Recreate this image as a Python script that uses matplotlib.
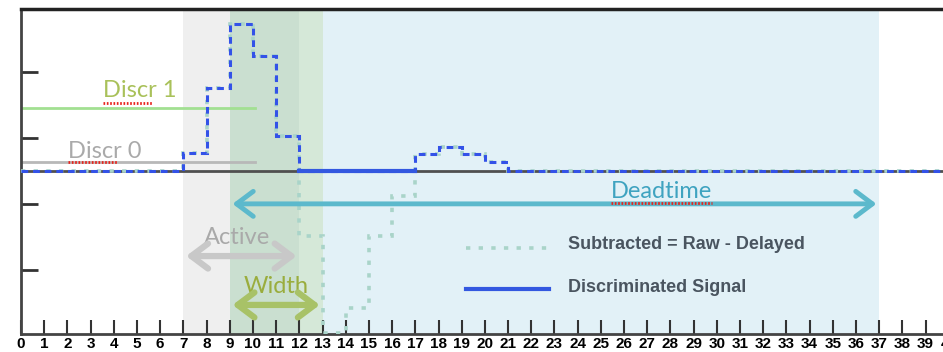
import numpy as np
import matplotlib
matplotlib.use("Agg")
import matplotlib.pyplot as plt
from matplotlib.patches import FancyArrowPatch

# --- data -------------------------------------------------------------
bin_edges = np.arange(0, 41)
subtracted = np.array([0, 0, 0, 0, 0, 0, 0, 2.7, 12.6, 22.3, 17.4, 5.2,
                       -9.8, -24.5, -20.8, -9.8, -3.8, 2.6, 3.6, 2.6, 1.4,
                       0, 0, 0, 0, 0, 0, 0, 0, 0, 0, 0, 0, 0, 0, 0, 0, 0, 0, 0])
discr_levels = {"Discr 1": 9.5, "Discr 0": 1.3}
active_window = (7, 12)
width_window = (9, 13)
deadtime_window = (9, 37)
x_ticks = np.arange(0, 41)
y_ticks = [-15, -5, 5, 15]

label_font = ["Lato", "DejaVu Sans"]
legend_font = ["Liberation Sans", "DejaVu Sans"]

fig = plt.figure(figsize=(9.43, 3.52), dpi=100)
ax = fig.add_axes([21 / 943, 18 / 352, 951 / 943, 325 / 352])
ax.set_xlim(0, 41)
ax.set_ylim(-24.7, 24.5)

# shaded timing windows
ax.axvspan(active_window[0], width_window[0], color="#efefef", lw=0, zorder=0)
ax.axvspan(width_window[0], active_window[1], color="#cadfd0", lw=0, zorder=0)
ax.axvspan(active_window[1], width_window[1], color="#d5e8d8", lw=0, zorder=0)
ax.axvspan(width_window[1], deadtime_window[1], color="#e2f1f7", lw=0, zorder=0)

# baseline
ax.axhline(0, color="#505050", lw=2, zorder=1)

# discriminator thresholds
discr_extent = 10.1
ax.plot([0, discr_extent], [discr_levels["Discr 1"]] * 2, color="#a2e092", lw=2, zorder=2)
ax.plot([0, discr_extent], [discr_levels["Discr 0"]] * 2, color="#b8b8b8", lw=2, zorder=2)
ax.text(3.53, 11.2, "Discr 1", color="#a9c15a", fontsize=17, family=label_font, va="baseline")
ax.text(2.03, 2.0, "Discr 0", color="#aaaaaa", fontsize=17, family=label_font, va="baseline")

# subtracted waveform and discriminated signal
dotted = (0, (1.2, 2.3))
ax.stairs(subtracted, bin_edges, baseline=None, color="#a9d4c9", lw=2.6,
          linestyle=dotted, zorder=3)
ax.stairs(np.maximum(subtracted, 0), bin_edges, baseline=None, color="#3352e8",
          lw=2.2, linestyle=(0, (2.2, 1.6)), zorder=4)
neg = np.where(subtracted < 0)[0]
ax.plot([bin_edges[neg[0]], bin_edges[neg[-1] + 1]], [0, 0], color="#3358e0", lw=3, zorder=5)

# window arrows
def span_arrow(x0, x1, y, color, lw, scale):
    ax.add_patch(FancyArrowPatch((x0, y), (x1, y), arrowstyle="<->,head_length=0.6,head_width=0.45",
                                 mutation_scale=scale, color=color, lw=lw, zorder=6))

span_arrow(*deadtime_window, -5.0, "#5cb9cc", 3.5, 20)
span_arrow(*active_window, -12.9, "#c8c8c8", 4.5, 20)
span_arrow(*width_window, -20.3, "#a8c267", 4.5, 20)
ax.text(27.6, -4.1, "Deadtime", color="#3fa3c0", fontsize=17, family=label_font, ha="center", va="baseline")
ax.text(9.31, -11.1, "Active", color="#a9a9a9", fontsize=17, family=label_font, ha="center", va="baseline")
ax.text(11.0, -18.5, "Width", color="#9aad3d", fontsize=17, family=label_font, ha="center", va="baseline")

# spell-check style underlines
for x0, x1, y in [(3.53, 5.7, 10.3), (2.03, 4.2, 1.3), (25.45, 29.8, -4.8)]:
    ax.plot([x0, x1], [y, y], color="#e8231c", lw=2, linestyle=(0, (0.6, 0.6)), zorder=7)

# legend
ax.plot([19.2, 22.76], [-11.7, -11.7], color="#a9d4c9", lw=2.6, linestyle=dotted)
ax.plot([19.2, 22.76], [-17.9, -17.9], color="#3358e0", lw=3)
ax.text(23.6, -11.1, "Subtracted = Raw - Delayed", color="#4a5560", fontsize=13,
        family=legend_font, fontweight="bold", va="center")
ax.text(23.6, -17.7, "Discriminated Signal", color="#4a5560", fontsize=13,
        family=legend_font, fontweight="bold", va="center")

# axes styling
ax.set_xticks(x_ticks)
ax.set_xticklabels([str(t) for t in x_ticks], fontsize=11, fontweight="bold", family=legend_font)
ax.set_yticks(y_ticks)
ax.set_yticklabels([])
ax.tick_params(axis="x", direction="in", length=10, width=1.5, color="#333333", pad=2)
ax.tick_params(axis="y", direction="in", length=12, width=2, color="#333333")
ax.spines["top"].set_linewidth(2.5)
ax.spines["top"].set_color("#222222")
ax.spines["left"].set_linewidth(2)
ax.spines["left"].set_color("#444444")
ax.spines["bottom"].set_linewidth(2)
ax.spines["bottom"].set_color("#444444")
ax.spines["right"].set_visible(False)

fig.savefig("out.png", dpi=100)
